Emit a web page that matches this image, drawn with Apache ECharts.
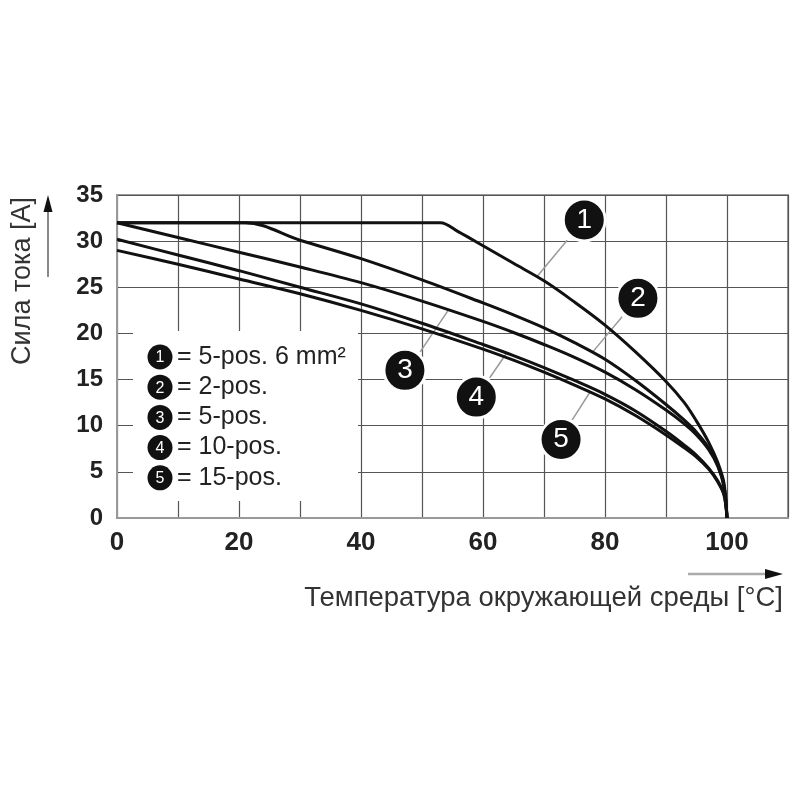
<!DOCTYPE html>
<html>
<head>
<meta charset="utf-8">
<title>Derating</title>
<script src="https://cdn.jsdelivr.net/npm/echarts@6/dist/echarts.min.js"></script>
<style>
  html, body { margin: 0; padding: 0; background: #fff; }
  #chart { width: 800px; height: 800px; }
</style>
</head>
<body>
<div id="chart"></div>
<script>
// Curves: [temperature °C, current A]
const curve1 = [[0, 32], [30, 32], [50, 32], [53, 32], [56, 31.0], [60, 29.5], [65, 27.6], [70, 25.7], [75, 23.4], [80, 20.9], [85, 18.0], [90, 14.8], [93, 12.5], [95, 10.5], [97, 8.2], [98.5, 6.0], [99.5, 3.8], [100, 0]];
const curve2 = [[0, 32], [15, 32], [21, 32], [30, 30.1], [40, 28.1], [50, 25.8], [60, 23.3], [65, 22.0], [70, 20.6], [75, 19.0], [80, 17.2], [85, 14.9], [90, 12.3], [93, 10.6], [95, 9.3], [97, 7.6], [98.5, 5.7], [99.5, 3.5], [100, 0]];
const curve3 = [[0, 32], [10, 30.4], [20, 28.8], [30, 27.2], [40, 25.5], [50, 23.5], [60, 21.3], [65, 20.1], [70, 18.8], [75, 17.4], [80, 15.8], [85, 13.9], [90, 11.7], [93, 10.2], [95, 9.0], [97, 7.4], [98.5, 5.6], [99.5, 3.4], [100, 0]];
const curve4 = [[0, 30.2], [10, 28.5], [20, 26.8], [30, 25], [40, 23.2], [50, 21.1], [60, 18.8], [65, 17.6], [70, 16.3], [75, 14.9], [80, 13.4], [85, 11.6], [90, 9.4], [93, 7.9], [95, 6.8], [97, 5.4], [98.5, 4.0], [99.5, 2.6], [100, 0]];
const curve5 = [[0, 29], [10, 27.5], [20, 25.9], [30, 24.3], [40, 22.5], [50, 20.5], [60, 18.3], [65, 17.1], [70, 15.8], [75, 14.4], [80, 12.9], [85, 11.1], [90, 9.0], [93, 7.6], [95, 6.6], [97, 5.3], [98.5, 3.9], [99.5, 2.5], [100, 0]];

const curves = [curve1, curve2, curve3, curve4, curve5];
const curveNames = ['1', '2', '3', '4', '5'];
const legendLabels = ['= 5-pos. 6 mm²', '= 2-pos.', '= 5-pos.', '= 10-pos.', '= 15-pos.'];

// callout bubbles and their leader lines, in data units
const calloutPos = [[76.6, 32.3], [85.4, 23.8], [47.2, 16.0], [58.9, 13.1], [72.8, 8.5]];
const leaderFrom = [[73.8, 30.1], [82.8, 21.8], [49.7, 18.0], [61.1, 15.2], [74.6, 10.6]];
const leaderTo = [[68.9, 26.2], [78.0, 18.0], [54.4, 22.6], [63.8, 17.8], [77.5, 13.6]];

const xName = 'Температура окружающей среды [°C]';
const yName = 'Сила тока [A]';

const FONT = '"Liberation Sans", Arial, sans-serif';

const chart = echarts.init(document.getElementById('chart'));

const series = [];
curves.forEach(function (c, i) {
  series.push({
    name: curveNames[i],
    type: 'line',
    data: c,
    smooth: 0.35,
    symbol: 'none',
    silent: true,
    z: 4,
    lineStyle: { color: '#111', width: 3 }
  });
});
leaderFrom.forEach(function (p, i) {
  series.push({
    type: 'line',
    data: [p, leaderTo[i]],
    symbol: 'none',
    silent: true,
    z: 3,
    lineStyle: { color: '#9a9a9a', width: 1.5 }
  });
});
series.push({
  type: 'scatter',
  data: calloutPos.map(function (p, i) { return { value: p, name: curveNames[i] }; }),
  symbolSize: 42,
  silent: true,
  z: 6,
  itemStyle: { color: '#111', borderColor: '#fff', borderWidth: 3, opacity: 1 },
  label: {
    show: true,
    position: 'inside',
    formatter: '{b}',
    color: '#fff',
    fontSize: 28,
    fontFamily: FONT
  }
});

// legend block drawn as graphics
const graphics = [
  { type: 'rect', z: 1, shape: { x: 133, y: 331, width: 225, height: 170 }, style: { fill: '#fff' } }
];
legendLabels.forEach(function (t, i) {
  const y = 357 + i * 30.2;
  graphics.push({ type: 'circle', z: 10, shape: { cx: 160, cy: y, r: 12.5 }, style: { fill: '#111' } });
  graphics.push({
    type: 'text', z: 11, x: 160, y: y + 1,
    style: { text: curveNames[i], fill: '#fff', font: '16px ' + FONT, textAlign: 'center', textVerticalAlign: 'middle' }
  });
  graphics.push({
    type: 'text', z: 11, x: 177, y: y,
    style: { text: t, fill: '#222', font: '25px ' + FONT, textAlign: 'left', textVerticalAlign: 'middle' }
  });
});
// axis names and arrows
graphics.push({
  type: 'text', z: 11, x: 23, y: 281, rotation: Math.PI / 2,
  style: { text: yName, fill: '#333', font: '27px ' + FONT, textAlign: 'center', textVerticalAlign: 'middle' }
});
graphics.push({ type: 'line', z: 11, shape: { x1: 48, y1: 277, x2: 48, y2: 208 }, style: { stroke: '#888', lineWidth: 2 } });
graphics.push({ type: 'polygon', z: 11, shape: { points: [[48, 195], [43.5, 212], [52.5, 212]] }, style: { fill: '#111' } });
graphics.push({
  type: 'text', z: 11, x: 783, y: 598,
  style: { text: xName, fill: '#333', font: '27.5px ' + FONT, textAlign: 'right', textVerticalAlign: 'middle' }
});
graphics.push({ type: 'line', z: 11, shape: { x1: 688, y1: 574, x2: 768, y2: 574 }, style: { stroke: '#aaa', lineWidth: 2.5 } });
graphics.push({ type: 'polygon', z: 11, shape: { points: [[783, 574], [765, 569], [765, 579]] }, style: { fill: '#111' } });

const option = {
  animation: false,
  backgroundColor: '#fff',
  grid: {
    left: 117, top: 195, right: 12, bottom: 282,
    show: true, borderColor: '#999', borderWidth: 2
  },
  xAxis: {
    type: 'value',
    min: 0, max: 110, interval: 10,
    axisLine: { show: true, lineStyle: { color: '#999', width: 2 } },
    axisTick: { show: false },
    splitLine: { show: true, lineStyle: { color: '#555', width: 1.2 } },
    axisLabel: {
      margin: 12,
      color: '#222',
      fontSize: 26,
      fontWeight: 'bold',
      fontFamily: FONT,
      formatter: function (v) { return (v % 20 === 0 && v <= 100) ? String(v) : ''; }
    }
  },
  yAxis: {
    type: 'value',
    min: 0, max: 35, interval: 5,
    axisLine: { show: true, lineStyle: { color: '#999', width: 2 } },
    axisTick: { show: false },
    splitLine: { show: true, lineStyle: { color: '#555', width: 1.2 } },
    axisLabel: {
      margin: 14,
      color: '#222',
      fontSize: 24,
      fontWeight: 'bold',
      fontFamily: FONT
    }
  },
  graphic: graphics,
  series: series
};

chart.setOption(option);
</script>
</body>
</html>
